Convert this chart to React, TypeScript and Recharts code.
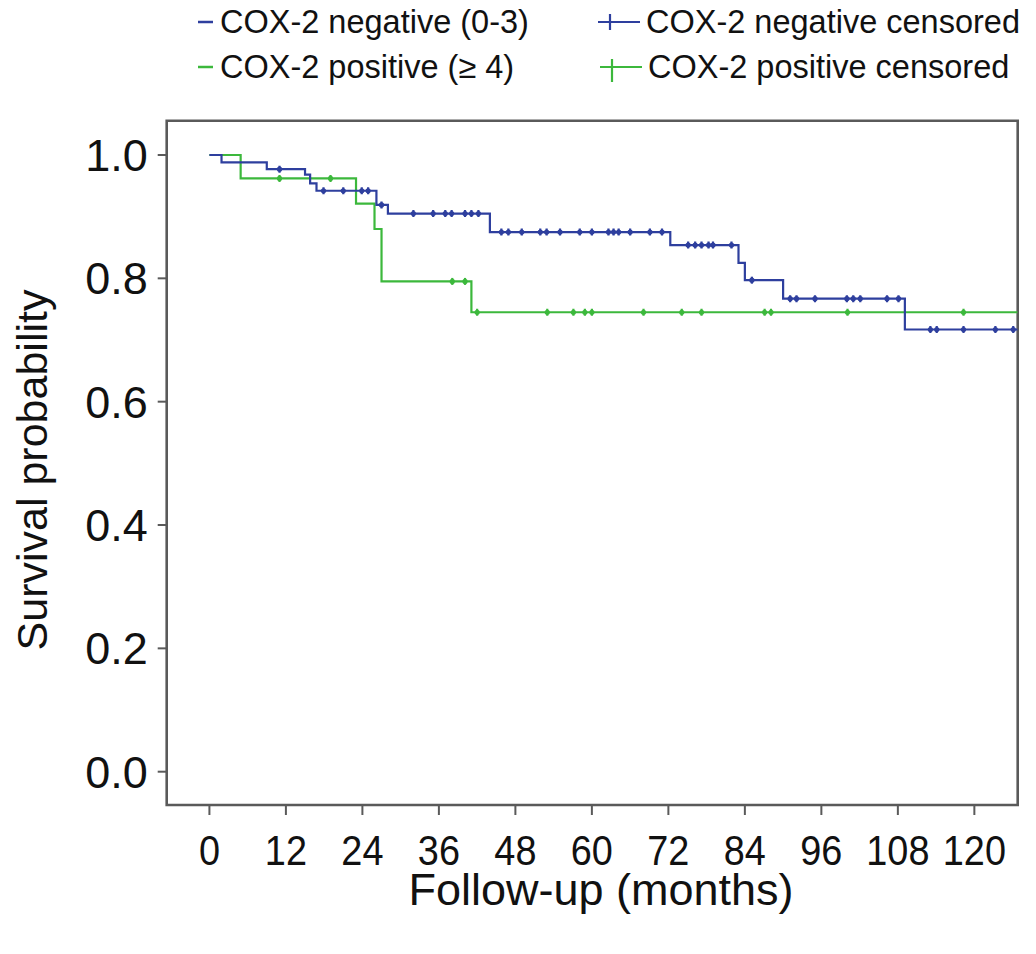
import React from 'react';
import {ComposedChart, Line, Scatter, XAxis, YAxis, ReferenceArea} from 'recharts';

// Kaplan-Meier steps (months -> survival)
const negStepTimes = [0, 1.9, 9, 15, 15.8, 16.8, 26.2, 28, 44, 72.3, 83, 84, 90, 109.1];
const negStepSurv = [1.0, 0.988, 0.977, 0.968, 0.954, 0.942, 0.919, 0.905, 0.875, 0.854, 0.825, 0.797, 0.767, 0.717];
const negCensored = [
    11, 17.9, 21, 23.9, 24.9, 27, 32, 35.1, 37, 38, 40.1, 41.1, 42.2, 45.8, 46.9, 49, 51.9, 52.9,
    55, 58.1, 60, 62.6, 63.4, 64.2, 66, 69.1, 71, 75.1, 76.2, 77.2, 78.3, 79, 81.9, 85.1, 91.1,
    92.1, 95, 100, 101, 102.1, 106.3, 108.1, 113.1, 114.1, 118.3, 123.3, 126.1,
];

const posStepTimes = [0, 4.9, 23, 25.9, 27, 41.1];
const posStepSurv = [1.0, 0.962, 0.921, 0.88, 0.795, 0.745];
const posCensored = [11, 19, 38.1, 40.1, 42, 53, 57.1, 58.9, 60, 68.1, 74.1, 77.2, 87.1, 88.1, 100.1, 118.3];

const followUpEnd = 126.8;
const xDomain = [-6.7, followUpEnd];
const yDomain = [-0.054, 1.0556];
const xTicks = [0, 12, 24, 36, 48, 60, 72, 84, 96, 108, 120];
const yTicks = [0, 0.2, 0.4, 0.6, 0.8, 1.0];

const BLUE = '#2e3f9e';
const GREEN = '#3cb83c';
const AXIS = '#5a5a5a';
const FONT = '"Liberation Sans", Arial, Helvetica, sans-serif';

function buildCurve(times: number[], surv: number[]) {
    const pts = times.map((t, i) => ({t, s: surv[i]}));
    pts.push({t: followUpEnd, s: surv[surv.length - 1]});
    return pts;
}

function survAt(times: number[], surv: number[], t: number) {
    let s = surv[0];
    times.forEach((ti, i) => {
        if (ti <= t) s = surv[i];
    });
    return s;
}

const negCurve = buildCurve(negStepTimes, negStepSurv);
const posCurve = buildCurve(posStepTimes, posStepSurv);
const negMarks = negCensored.map(t => ({t, s: survAt(negStepTimes, negStepSurv, t)}));
const posMarks = posCensored.map(t => ({t, s: survAt(posStepTimes, posStepSurv, t)}));

const censorShape = (color: string) => (props: any) => {
    const {cx, cy} = props;
    return (
        <g>
            <line x1={cx} y1={cy - 3.5} x2={cx} y2={cy + 3.5} stroke={color} strokeWidth={2.2}/>
            <circle cx={cx} cy={cy} r={2.6} fill={color}/>
        </g>
    );
};

// x tick labels in the figure are a condensed face
const XTick = (props: any) => {
    const {x, y, payload} = props;
    return (
        <g transform={`translate(${x},${y})`}>
            <text transform="scale(0.88,1)" textAnchor="middle" dy="0.71em"
                  style={{fontFamily: FONT, fontSize: 43, fill: '#111'}}>
                {payload.value}
            </text>
        </g>
    );
};

const XTitle = () => (
    <text x={601} y={905} textAnchor="middle"
          style={{fontFamily: FONT, fontSize: 45, fill: '#111'}}>
        Follow-up (months)
    </text>
);

const YTitle = () => (
    <text x={32} y={470} textAnchor="middle" dominantBaseline="central"
          transform="rotate(-90, 32, 470)"
          style={{fontFamily: FONT, fontSize: 43, fill: '#111'}}>
        Survival probability
    </text>
);

function LegendRow({color, label, cross, top, left}: any) {
    return (
        <div style={{position: 'absolute', top, left, display: 'flex', alignItems: 'center', height: 36}}>
            <svg width={cross ? 48 : 20} height={36} style={{marginRight: 4}}>
                {cross ? (
                    <>
                        <line x1={4} y1={18} x2={46} y2={18} stroke={color} strokeWidth={2.2}/>
                        <line x1={16} y1={10} x2={16} y2={cross === 'long' ? 33 : 26} stroke={color} strokeWidth={2.2}/>
                    </>
                ) : (
                    <line x1={2} y1={18} x2={17} y2={18} stroke={color} strokeWidth={2.5}/>
                )}
            </svg>
            <span style={{fontFamily: FONT, fontSize: 32.5, color: '#111', whiteSpace: 'nowrap'}}>{label}</span>
        </div>
    );
}

export default function App() {
    return (
        <div style={{position: 'absolute', left: 0, top: 0, width: 1036, height: 954, background: '#fff'}}>
            <LegendRow color={BLUE} label="COX-2 negative (0-3)" top={4} left={196}/>
            <LegendRow color={GREEN} label="COX-2 positive (≥ 4)" top={49} left={196}/>
            <LegendRow color={BLUE} label="COX-2 negative censored" cross="short" top={4} left={594}/>
            <LegendRow color={GREEN} label="COX-2 positive censored" cross="long" top={49} left={596}/>

            <ComposedChart
                width={1036}
                height={954}
                margin={{top: 120.7, right: 18.3, left: 0, bottom: 0}}
                style={{position: 'absolute', left: 0, top: 0}}
            >
                <XAxis
                    dataKey="t"
                    type="number"
                    domain={xDomain}
                    allowDataOverflow
                    ticks={xTicks}
                    interval={0}
                    height={149}
                    tickSize={10}
                    tickMargin={19}
                    axisLine={false}
                    tickLine={{stroke: AXIS, strokeWidth: 2}}
                    tick={<XTick/>}
                    label={<XTitle/>}
                />
                <YAxis
                    type="number"
                    domain={yDomain}
                    allowDataOverflow
                    ticks={yTicks}
                    width={166.7}
                    tickSize={9}
                    tickMargin={10}
                    tickFormatter={(v: number) => v.toFixed(1)}
                    axisLine={false}
                    tickLine={{stroke: AXIS, strokeWidth: 2}}
                    tick={{fill: '#111', fontSize: 45, fontFamily: FONT}}
                    label={<YTitle/>}
                />

                {/* plot frame */}
                <ReferenceArea x1={xDomain[0]} x2={xDomain[1]} y1={yDomain[0]} y2={yDomain[1]}
                               fill="none" stroke={AXIS} strokeWidth={2.6} ifOverflow="visible"/>

                <Line data={posCurve} dataKey="s" type="stepAfter"
                      stroke={GREEN} strokeWidth={2.2} dot={false} activeDot={false} isAnimationActive={false}/>
                <Line data={negCurve} dataKey="s" type="stepAfter"
                      stroke={BLUE} strokeWidth={2.2} dot={false} activeDot={false} isAnimationActive={false}/>
                <Scatter data={posMarks} dataKey="s" shape={censorShape(GREEN)} isAnimationActive={false}/>
                <Scatter data={negMarks} dataKey="s" shape={censorShape(BLUE)} isAnimationActive={false}/>
            </ComposedChart>
        </div>
    );
}
